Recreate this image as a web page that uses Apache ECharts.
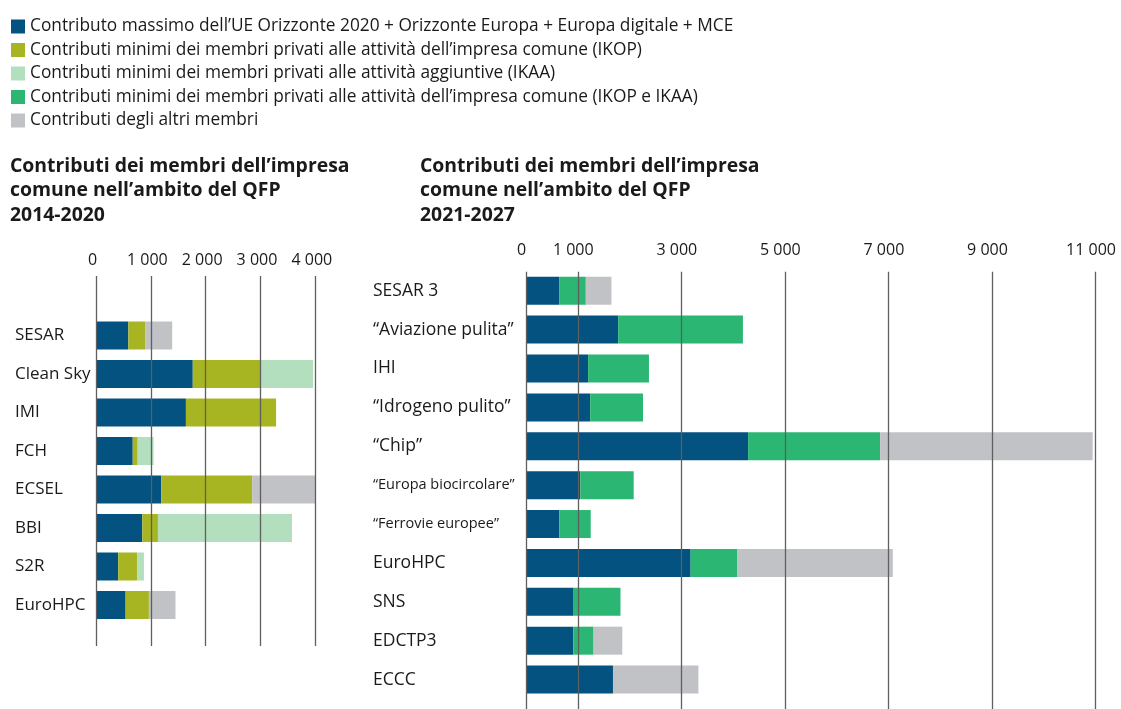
<!DOCTYPE html>
<html>
<head>
<meta charset="utf-8">
<script src="https://cdn.jsdelivr.net/npm/echarts@6/dist/echarts.min.js"></script>
<style>
html,body{margin:0;padding:0;background:#fff;}
#chart{width:1121px;height:709px;}
</style>
</head>
<body>
<div id="chart"></div>
<script>
// ---- Data ----
const seriesNames = [
  'Contributo massimo dell’UE Orizzonte 2020 + Orizzonte Europa + Europa digitale + MCE',
  'Contributi minimi dei membri privati alle attività dell’impresa comune (IKOP)',
  'Contributi minimi dei membri privati alle attività aggiuntive (IKAA)',
  'Contributi minimi dei membri privati alle attività dell’impresa comune (IKOP e IKAA)',
  'Contributi degli altri membri'
];
const leftTitle = 'Contributi dei membri dell’impresa\ncomune nell’ambito del QFP\n2014-2020';
const rightTitle = 'Contributi dei membri dell’impresa\ncomune nell’ambito del QFP\n2021-2027';

const leftCategories = ['SESAR', 'Clean Sky', 'IMI', 'FCH', 'ECSEL', 'BBI', 'S2R', 'EuroHPC'];
const leftEU     = [590, 1765, 1640, 670, 1190, 845, 405, 540];
const leftIKOP   = [305, 1230, 1645, 90, 1660, 285, 350, 425];
const leftIKAA   = [0, 965, 0, 290, 0, 2445, 120, 0];
const leftOthers = [495, 0, 0, 0, 1150, 0, 0, 485];
const leftTicks  = [0, 1000, 2000, 3000, 4000];

const rightCategories = ['SESAR 3', '“Aviazione pulita”', 'IHI', '“Idrogeno pulito”', '“Chip”',
  '“Europa biocircolare”', '“Ferrovie europee”', 'EuroHPC', 'SNS', 'EDCTP3', 'ECCC'];
const rightSmallLabels = ['“Europa biocircolare”', '“Ferrovie europee”'];
const rightEU      = [640, 1780, 1200, 1240, 4290, 1050, 645, 3180, 920, 915, 1680];
const rightPrivate = [515, 2410, 1175, 1020, 2550, 1030, 605, 905, 905, 390, 0];
const rightOthers  = [495, 0, 0, 0, 4105, 0, 0, 3000, 0, 555, 1650];
const rightTicks   = [0, 1000, 3000, 5000, 7000, 9000, 11000];

// ---- Styles ----
const colors = ['#03527f', '#a8b523', '#b3dfbf', '#2bb673', '#c1c2c6'];
const FONT = '"Open Sans", sans-serif';
const TXT = '#1a1a1a';
const fmt = v => String(v).replace(/\B(?=(\d{3})+(?!\d))/g, ' ');

const chart = echarts.init(document.getElementById('chart'));

const z = v => (v === 0 ? null : v);
function barSeries(nameIdx, data, axisIdx, stack) {
  return {
    type: 'bar',
    name: seriesNames[nameIdx],
    stack: stack,
    xAxisIndex: axisIdx,
    yAxisIndex: axisIdx,
    barWidth: 28,
    data: data.map(z),
    itemStyle: { color: colors[nameIdx] },
    emphasis: { disabled: true },
    z: 2
  };
}

const option = {
  backgroundColor: '#fff',
  animation: false,
  textStyle: { fontFamily: FONT, color: TXT },
  legend: {
    orient: 'vertical',
    left: 11,
    top: 18,
    padding: 0,
    itemWidth: 14,
    itemHeight: 14,
    itemGap: 6.5,
    icon: 'rect',
    selectedMode: false,
    data: seriesNames,
    textStyle: { fontFamily: FONT, fontSize: 17.3, color: TXT, lineHeight: 14 }
  },
  title: [
    { text: leftTitle, left: 10, top: 154, padding: 0,
      textStyle: { fontFamily: FONT, fontSize: 19.4, fontWeight: 'bold', color: TXT, lineHeight: 24.5 } },
    { text: rightTitle, left: 420, top: 154, padding: 0,
      textStyle: { fontFamily: FONT, fontSize: 19.4, fontWeight: 'bold', color: TXT, lineHeight: 24.5 } }
  ],
  grid: [
    // 0: left bars
    { left: 96, right: 805.7, top: 316.25, bottom: 84.75 },
    // 1: right bars
    { left: 526, right: 25.5, top: 271.3, bottom: 10 },
    // 2: left gridlines overlay
    { left: 96, right: 805.7, top: 276, bottom: 63 },
    // 3: right gridlines overlay
    { left: 526, right: 25.5, top: 271.7, bottom: 0 }
  ],
  xAxis: [
    { gridIndex: 0, type: 'value', min: 0, max: 4000, show: false },
    { gridIndex: 1, type: 'value', min: 0, max: 11000, show: false },
    { gridIndex: 2, type: 'value', position: 'top', min: 0, max: 4000, interval: 1000, z: 10,
      axisLine: { show: false }, axisTick: { show: false },
      axisLabel: { formatter: fmt, fontFamily: FONT, fontSize: 16, color: TXT, margin: 8, padding: [0, 7, 0, 0] },
      splitLine: { show: true, lineStyle: { color: '#5f5f5f', width: 1.3 } } },
    { gridIndex: 3, type: 'value', position: 'top', min: 0, max: 11000, interval: 1000, z: 10,
      axisLine: { show: false },
      axisTick: { show: false, customValues: rightTicks },
      axisLabel: { customValues: rightTicks, formatter: fmt, fontFamily: FONT, fontSize: 16, color: TXT, margin: 13, padding: [0, 9, 0, 0] },
      splitLine: { show: true, lineStyle: { color: '#5f5f5f', width: 1.3 } } }
  ],
  yAxis: [
    { gridIndex: 0, type: 'category', inverse: true, data: leftCategories,
      axisLine: { show: false }, axisTick: { show: false }, splitLine: { show: false },
      axisLabel: { align: 'left', margin: 81, fontFamily: FONT, fontSize: 17, color: TXT } },
    { gridIndex: 1, type: 'category', inverse: true, data: rightCategories,
      axisLine: { show: false }, axisTick: { show: false }, splitLine: { show: false },
      axisLabel: { align: 'left', margin: 153, fontFamily: FONT, color: TXT,
        formatter: v => rightSmallLabels.includes(v) ? '{s|' + v + '}' : '{n|' + v + '}',
        rich: { n: { fontFamily: FONT, fontSize: 17.5, color: TXT }, s: { fontFamily: FONT, fontSize: 14.5, color: TXT } } } },
    { gridIndex: 2, type: 'value', min: 0, max: 1, show: false },
    { gridIndex: 3, type: 'value', min: 0, max: 1, show: false }
  ],
  series: [
    barSeries(0, leftEU, 0, 'L'),
    barSeries(1, leftIKOP, 0, 'L'),
    barSeries(2, leftIKAA, 0, 'L'),
    barSeries(4, leftOthers, 0, 'L'),
    barSeries(0, rightEU, 1, 'R'),
    barSeries(3, rightPrivate, 1, 'R'),
    barSeries(4, rightOthers, 1, 'R')
  ]
};
chart.setOption(option);
</script>
</body>
</html>
